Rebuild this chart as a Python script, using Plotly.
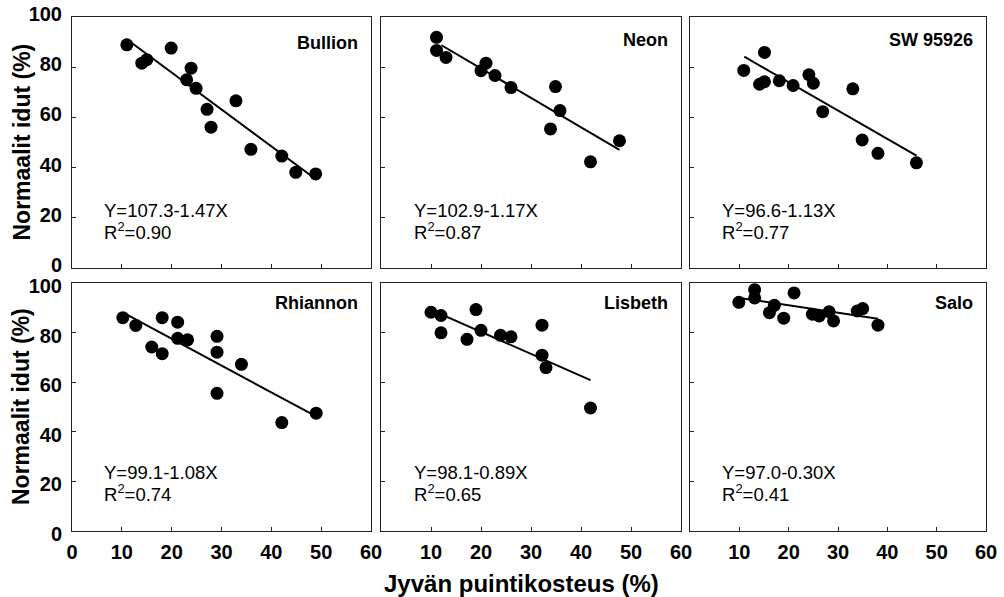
import plotly.graph_objects as go

# ---------------- data ----------------
cultivars = ["Bullion", "Neon", "SW 95926", "Rhiannon", "Lisbeth", "Salo"]

bullion_x = [11.0, 14.0, 15.0, 19.9, 23.0, 23.9, 24.9, 27.1, 27.9, 32.9, 35.9, 42.1, 44.9, 48.9]
bullion_y = [88.9, 81.6, 83.0, 87.6, 75.0, 79.6, 71.6, 63.2, 56.1, 66.6, 47.3, 44.6, 38.1, 37.5]

neon_x = [11.1, 11.1, 13.0, 20.0, 21.0, 22.8, 26.0, 34.9, 35.8, 33.9, 41.9, 47.7]
neon_y = [91.9, 86.7, 83.9, 78.6, 81.6, 76.7, 71.9, 72.3, 62.7, 55.4, 42.3, 50.7]

sw_x = [10.9, 15.1, 14.1, 15.1, 18.1, 20.9, 24.1, 25.0, 26.9, 33.0, 34.9, 38.1, 45.9]
sw_y = [78.7, 85.9, 73.2, 74.2, 74.6, 72.7, 77.0, 73.6, 62.3, 71.4, 51.0, 45.7, 41.9]

rhiannon_x = [10.2, 12.8, 16.0, 18.1, 18.1, 21.2, 21.2, 23.2, 29.1, 29.1, 29.1, 34.0, 42.1, 49.0]
rhiannon_y = [86.0, 82.9, 74.2, 86.0, 71.5, 84.2, 77.7, 77.1, 78.5, 72.1, 55.5, 67.2, 43.7, 47.5]

lisbeth_x = [10.0, 12.0, 12.0, 19.0, 17.2, 20.0, 23.9, 26.0, 32.2, 32.2, 33.0, 41.9]
lisbeth_y = [88.2, 86.9, 79.9, 89.3, 77.3, 80.9, 78.9, 78.3, 83.0, 70.9, 65.9, 49.6]

salo_x = [9.9, 13.1, 13.1, 21.1, 16.1, 17.1, 19.0, 24.8, 26.2, 28.2, 29.1, 33.9, 35.0, 38.1]
salo_y = [92.2, 97.3, 94.0, 96.0, 88.0, 91.0, 85.8, 87.4, 86.7, 88.4, 84.7, 88.7, 89.7, 83.0]

intercepts = [107.3, 102.9, 96.6, 99.1, 98.1, 97.0]
slopes = [-1.47, -1.17, -1.13, -1.08, -0.89, -0.30]
r2_values = ["0.90", "0.87", "0.77", "0.74", "0.65", "0.41"]
line_x_start = [12.0, 12.1, 11.0, 11.2, 12.5, 10.7]
line_x_end = [48.4, 47.7, 45.9, 48.9, 41.9, 38.1]

x_ticks = [0, 10, 20, 30, 40, 50, 60]
x_ticks_inner = [10, 20, 30, 40, 50, 60]
y_ticks = [0, 20, 40, 60, 80, 100]

xs = [bullion_x, neon_x, sw_x, rhiannon_x, lisbeth_x, salo_x]
ys = [bullion_y, neon_y, sw_y, rhiannon_y, lisbeth_y, salo_y]

# ---------------- layout geometry ----------------
W, H = 1004, 597
col_px = [(72, 371), (381, 681), (690, 986)]
row_px = [(17, 268), (283, 531)]

FONT = "Liberation Sans, Arial, Helvetica, sans-serif"

fig = go.Figure()
layout = dict(
    width=W, height=H, autosize=False,
    margin=dict(l=0, r=0, t=0, b=0, pad=0),
    paper_bgcolor="white", plot_bgcolor="white",
    showlegend=False,
    font=dict(family=FONT, color="black"),
)
annotations = []

label_y = [89.5, 91.0, 91.0, 92.0, 92.0, 92.0]

for i in range(6):
    r, c = divmod(i, 3)
    idx = "" if i == 0 else str(i + 1)
    xa, ya = "x" + idx, "y" + idx
    x0, x1 = col_px[c]
    y0, y1 = row_px[r]
    layout["xaxis" + idx] = dict(
        domain=[x0 / W, x1 / W], anchor=ya, range=[0, 60],
        tickvals=(x_ticks if c == 0 else x_ticks_inner), showticklabels=(r == 1),
        ticks="inside", ticklen=4, tickwidth=1, tickcolor="#222",
        showline=True, linecolor="#222", linewidth=1, mirror=True,
        showgrid=False, zeroline=False, automargin=False,
        tickfont=dict(family=FONT, size=20, color="black", weight="bold"),
        ticklabelstandoff=3,
    )
    layout["yaxis" + idx] = dict(
        domain=[1 - y1 / H, 1 - y0 / H], anchor=xa, range=[0, 100],
        tickvals=y_ticks, showticklabels=(c == 0),
        ticks="inside", ticklen=4, tickwidth=1, tickcolor="#222",
        showline=True, linecolor="#222", linewidth=1, mirror=True,
        showgrid=False, zeroline=False, automargin=False,
        tickfont=dict(family=FONT, size=20, color="black", weight="bold"),
        ticklabelstandoff=5,
        ticklabelshift=(-3 if r == 0 else 3),
    )
    # regression line
    lx = [line_x_start[i], line_x_end[i]]
    ly = [intercepts[i] + slopes[i] * v for v in lx]
    fig.add_trace(go.Scatter(x=lx, y=ly, mode="lines", xaxis=xa, yaxis=ya,
                             line=dict(color="black", width=2), hoverinfo="skip"))
    # points
    fig.add_trace(go.Scatter(x=xs[i], y=ys[i], mode="markers", xaxis=xa, yaxis=ya,
                             marker=dict(color="black", size=13, line=dict(width=0))))
    # labels
    annotations.append(dict(xref=xa, yref=ya, x=57.8, y=label_y[i], text="<b>" + cultivars[i] + "</b>",
                            showarrow=False, xanchor="right", yanchor="middle",
                            font=dict(family=FONT, size=18, color="black")))
    eq = "Y=%.1f-%.2fX" % (intercepts[i], -slopes[i])
    ey = 23.1 if r == 0 else 23.7
    annotations.append(dict(xref=xa, yref=ya, x=6.1, y=ey, text=eq,
                            showarrow=False, xanchor="left", yanchor="middle",
                            font=dict(family=FONT, size=18.5, color="black")))
    annotations.append(dict(xref=xa, yref=ya, x=6.1, y=ey - 8.2, text="R<sup>2</sup>=" + r2_values[i],
                            showarrow=False, xanchor="left", yanchor="middle",
                            font=dict(family=FONT, size=18.5, color="black")))

# axis titles
for (y0, y1) in row_px:
    annotations.append(dict(xref="paper", yref="paper", x=21 / W, y=1 - (y0 + y1) / 2 / H,
                            text="<b>Normaalit idut (%)</b>", textangle=-90, showarrow=False,
                            xanchor="center", yanchor="middle",
                            font=dict(family=FONT, size=23, color="black")))
annotations.append(dict(xref="paper", yref="paper", x=521 / W, y=1 - 583 / H,
                        text="<b>Jyvän puintikosteus (%)</b>", showarrow=False,
                        xanchor="center", yanchor="middle",
                        font=dict(family=FONT, size=24, color="black")))

layout["annotations"] = annotations
fig.update_layout(**layout)
fig.write_html("out.html")
